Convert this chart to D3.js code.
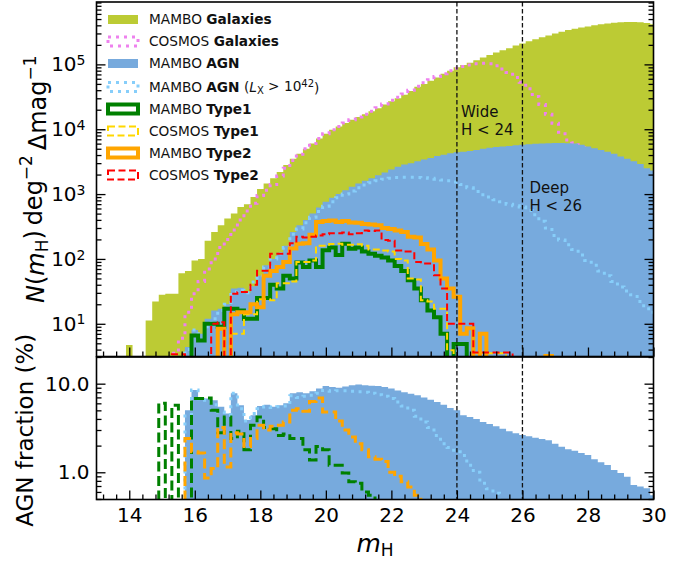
<!DOCTYPE html>
<html>
<head>
<meta charset="utf-8">
<script src="https://cdn.jsdelivr.net/npm/d3@7"></script>
<style>
  body { margin: 0; background: #fff; }
  svg { font-family: 'DejaVu Sans', sans-serif; }
</style>
</head>
<body>
<svg id="chart" width="692" height="564"></svg>
<script>
// all histograms use 0.2 mag bins, values given per bin centre
const binW = 0.2

// ---- top panel: N(m_H) per deg^2 per mag ----
const mamboGalStart = 14.0
const mamboGal = [4.7, 0, 0, 11.2, 22,
  28, 29, 29, 60, 65,
  95, 100, 190, 260, 330,
  420, 500, 630, 700, 900,
  1200, 1450, 1750, 2200, 2800,
  3500, 4200, 5000, 6000, 7200,
  8500, 9800, 11000, 12500, 14000,
  15500, 17000, 19000, 21000, 24000,
  27000, 30000, 34000, 39000, 45000,
  50000, 56000, 63000, 72000, 80000,
  90000, 98000, 106000, 116000, 128000,
  140000, 152000, 165000, 178000, 195000,
  210000, 228000, 245000, 262000, 280000,
  300000, 318000, 338000, 355000, 370000,
  385000, 400000, 415000, 428000, 440000,
  447000, 450000, 450000, 445000, 435000,
  415000]

const cosmosGalStart = 15.2
const cosmosGal = [0, 3.5, 6, 15,
  29, 45, 70, 100, 150,
  200, 280, 400, 550, 720,
  950, 1150, 1400, 1900, 2500,
  3300, 4100, 5000, 6000, 7200,
  8500, 9800, 11000, 12500, 14000,
  15500, 17000, 19000, 21500, 24500,
  28000, 31000, 35000, 40000, 46000,
  52000, 58000, 65000, 72000, 80000,
  87000, 93000, 98000, 102000, 104000,
  102000, 95000, 85000, 75000, 63000,
  53000, 42000, 32000, 24000, 17000,
  12400, 9000, 6800, 6200, 5200,
  4200, 3400, 2800, 2300, 1800,
  1500, 1250, 1000, 850, 700,
  620]

const mamboAgnStart = 15.8
const mamboAgn = [4.4,
  8, 7, 12, 16, 17,
  20, 35, 36, 30, 38,
  55, 80, 100, 125, 160,
  260, 330, 400, 500, 620,
  760, 880, 1000, 1150, 1300,
  1450, 1600, 1750, 1950, 2150,
  2400, 2650, 2850, 3000, 3200,
  3400, 3600, 3850, 4050, 4250,
  4400, 4500, 4600, 4800, 5000,
  5200, 5300, 5400, 5500, 5650,
  5750, 5850, 5950, 6050, 6100,
  6150, 6150, 6100, 6000, 5750,
  5400, 5100, 4800, 4500, 4200,
  3800, 3500, 3200, 2900, 2500,
  2300]

const agnLxStart = 15.8
const agnLx = [4,
  8, 7, 9, 12, 16,
  20, 31, 33, 30, 44,
  55, 75, 100, 120, 150,
  240, 290, 360, 440, 540,
  650, 760, 880, 1000, 1120,
  1250, 1380, 1500, 1600, 1700,
  1750, 1800, 1820, 1820, 1800,
  1780, 1750, 1700, 1650, 1600,
  1540, 1400, 1250, 1100, 980,
  900, 820, 760, 700, 660,
  630, 560, 480, 380, 300,
  230, 195, 165, 140, 115,
  95, 80, 65, 55, 45,
  37, 32, 28, 22, 17,
  15]

const mamboT1Start = 15.0
const mamboT1 = [1.7, 0, 1.7, 0, 0,
  6.6, 5.5, 10, 10, 9,
  17, 17, 16, 12, 12,
  25, 25, 40, 35, 55,
  50, 88, 75, 95, 75,
  136, 150, 115, 172, 143,
  150, 130, 120, 112, 105,
  95, 78, 65, 47, 35,
  23, 16, 12.6, 7, 0,
  4.9, 4.9]

const cosmosT1Start = 17.2
const cosmosT1 = [7, 7, 14, 14,
  24, 24, 23, 42, 42,
  45, 90, 90, 95, 160,
  160, 170, 172, 165, 165,
  168, 160, 140, 140, 135,
  130, 100, 95, 50, 48,
  23, 22, 17, 17, 3.9,
  0, 0, 0, 3.5, 3.5,
  3.5, 3.5, 3.5]

const mamboT2Start = 16.8
const mamboT2 = [8.4,
  0, 14, 15, 15, 20,
  18, 55, 65, 75, 90,
  145, 172, 175, 235, 370,
  385, 390, 370, 385, 365,
  360, 345, 340, 330, 300,
  290, 275, 260, 220, 215,
  170, 140, 95, 50, 35,
  26, 7, 8.5, 0, 7,
  0, 0, 0, 0, 0,
  0, 0, 0, 0, 3.2]

const cosmosT2Start = 15.4
const cosmosT2 = [3.4, 3.4, 0,
  0, 0, 0, 10, 10.6,
  0, 29, 31, 31, 40,
  66, 66, 120, 120, 120,
  175, 220, 215, 220, 230,
  240, 250, 250, 255, 240,
  250, 275, 270, 275, 195,
  190, 135, 130, 130, 90,
  85, 85, 56, 35, 10,
  10, 10, 10, 3.6, 3.6,
  3.6, 3.6, 3.6, 3.6]

// ---- bottom panel: AGN fraction (%) ----
const fracAgnStart = 15.8
const fracAgn = [5.0,
  8.5, 6.9, 6.8, 6.5, 5.5,
  4.6, 7.8, 5.7, 3.9, 4.4,
  5.6, 5.8, 5.5, 5.7, 6.0,
  7.8, 8.0, 7.8, 8.2, 8.8,
  9.4, 9.2, 9.0, 9.3, 9.6,
  9.8, 9.6, 9.5, 9.4, 9.2,
  8.8, 8.4, 8.0, 7.7, 7.4,
  7.0, 6.6, 6.2, 5.8, 5.3,
  5.0, 4.4, 4.2, 4.0, 3.7,
  3.5, 3.3, 3.1, 2.9, 2.75,
  2.63, 2.55, 2.46, 2.38, 2.3,
  2.1, 1.94, 1.82, 1.75, 1.65,
  1.57, 1.40, 1.30, 1.21, 1.06,
  0.98, 0.89, 0.72, 0.69, 0.66,
  0.55]

const fracLxStart = 15.8
const fracLx = [4.5,
  8.5, 6.5, 6.2, 5.8, 4.8,
  4.5, 7.8, 5.2, 3.8, 4.6,
  5.2, 5.5, 5.4, 5.5, 5.6,
  7.3, 7.0, 7.2, 7.4, 7.8,
  8.4, 8.2, 8.3, 8.3, 8.2,
  8.1, 8.0, 7.8, 7.5, 7.2,
  6.8, 6.2, 5.6, 5.0, 4.3,
  3.7, 3.2, 2.6, 2.1, 1.9,
  1.7, 1.55, 1.2, 1.0, 0.75,
  0.65, 0.58, 0.45]

const fracT1Start = 15.0
const fracT1 = [6.0, 0, 5.7, 0, 0,
  6.8, 6.8, 6.9, 5.0, 2.8,
  4.2, 2.4, 2.9, 1.8, 3.4,
  4.2, 3.2, 3.1, 2.6, 2.7,
  2.4, 2.4, 1.8, 1.38, 1.95,
  1.8, 1.2, 1.2, 0.98, 0.78,
  0.75, 0.6, 0.55]

const fracT2Start = 15.8
const fracT2 = [2.4,
  1.7, 1.65, 0.86, 1.1, 3.2,
  1.15, 2.8, 2.7, 1.95, 2.4,
  3.4, 3.0, 3.3, 3.4, 3.7,
  5.0, 5.2, 4.9, 6.3, 6.9,
  4.8, 4.8, 3.8, 3.0, 2.5,
  2.1, 1.8, 1.5, 1.4, 1.32,
  1.0, 0.9, 0.78, 0.68, 0.55]

const xTicks = [14, 16, 18, 20, 22, 24, 26, 28, 30]
const surveyCuts = [24, 26]
const cutLabels = [['Wide', 'H < 24'], ['Deep', 'H < 26']]

const colors = {
    mamboGal: '#bccb34',
    cosmosGal: '#ee82ee',
    mamboAgn: '#77aadd',
    agnLx: '#87cefa',
    t1: '#008000',
    cosmosT1: '#ffd700',
    t2: '#ffa500',
    cosmosT2: '#ff0000',
}

const svg = d3.select('#chart')
const left = 96.5
const right = 653.5
const top1 = 2
const bot1 = 356.5
const top2 = 357
const bot2 = 499.5

const x = d3.scaleLinear().domain([13, 30]).range([left, right])
const yTop = d3.scaleLog().domain([3.13, 9.16e5]).range([bot1, top1])
const yBot = d3.scaleLog().domain([0.493, 20]).range([bot2, top2])

const defs = svg.append('defs')
defs.append('clipPath').attr('id', 'clipTop')
    .append('rect').attr('x', left).attr('y', top1)
    .attr('width', right - left).attr('height', bot1 - top1)
defs.append('clipPath').attr('id', 'clipBot')
    .append('rect').attr('x', left).attr('y', top2)
    .attr('width', right - left).attr('height', bot2 - top2)

// matplotlib-like step outline (empty bins drop below the axis)
function stepPath(start, vals, y, floorY) {
    const yy = (v) => (v > 0 ? y(v) : floorY)
    let d = ''
    vals.forEach((v, i) => {
        const x0 = x(start + (i - 0.5) * binW)
        const x1 = x(start + (i + 0.5) * binW)
        d += i === 0 ? `M${x0},${floorY}L${x0},${yy(v)}` : `L${x0},${yy(v)}`
        d += `L${x1},${yy(v)}`
    })
    d += `L${x(start + (vals.length - 0.5) * binW)},${floorY}`
    return d
}

function drawFill(g, start, vals, y, floorY, color) {
    g.append('path')
        .attr('d', stepPath(start, vals, y, floorY) + 'Z')
        .attr('fill', color)
}

function drawStep(g, start, vals, y, floorY, color, width, dash) {
    g.append('path')
        .attr('d', stepPath(start, vals, y, floorY))
        .attr('fill', 'none')
        .attr('stroke', color)
        .attr('stroke-width', width)
        .attr('stroke-dasharray', dash)
        .attr('stroke-linejoin', 'miter')
}

// ---------------- top panel ----------------
const gTop = svg.append('g').attr('clip-path', 'url(#clipTop)')
const fTop = bot1 + 30
drawFill(gTop, mamboGalStart, mamboGal, yTop, fTop, colors.mamboGal)
drawStep(gTop, cosmosGalStart, cosmosGal, yTop, fTop, colors.cosmosGal, 3, '3,5')
drawFill(gTop, mamboAgnStart, mamboAgn, yTop, fTop, colors.mamboAgn)
drawStep(gTop, agnLxStart, agnLx, yTop, fTop, colors.agnLx, 3, '3,5')
drawStep(gTop, mamboT1Start, mamboT1, yTop, fTop, colors.t1, 4, null)
drawStep(gTop, cosmosT1Start, cosmosT1, yTop, fTop, colors.cosmosT1, 2, '7,3.5')
drawStep(gTop, mamboT2Start, mamboT2, yTop, fTop, colors.t2, 4, null)
drawStep(gTop, cosmosT2Start, cosmosT2, yTop, fTop, colors.cosmosT2, 2, '7,3.5')

// ---------------- bottom panel ----------------
const gBot = svg.append('g').attr('clip-path', 'url(#clipBot)')
const fBot = bot2 + 30
drawFill(gBot, fracAgnStart, fracAgn, yBot, fBot, colors.mamboAgn)
drawStep(gBot, fracLxStart, fracLx, yBot, fBot, colors.agnLx, 3, '3,5')
drawStep(gBot, fracT1Start, fracT1, yBot, fBot, colors.t1, 3, '10,4.5')
drawStep(gBot, fracT2Start, fracT2, yBot, fBot, colors.t2, 3, '10,4.5')

// survey depth lines across both panels
surveyCuts.forEach((c) => {
    ;[[top1, bot1], [top2, bot2]].forEach(([a, b]) => {
        svg.append('line')
            .attr('x1', x(c)).attr('x2', x(c))
            .attr('y1', a).attr('y2', b)
            .attr('stroke', '#111')
            .attr('stroke-width', 1.3)
            .attr('stroke-dasharray', '4.5,2.5')
    })
})

// two-line labels next to the depth lines
const annotPos = [[461, 116.5], [529.5, 192.5]]
cutLabels.forEach((lines, i) => {
    lines.forEach((s, j) => {
        svg.append('text')
            .attr('x', annotPos[i][0])
            .attr('y', annotPos[i][1] + j * 18)
            .attr('fill', '#111')
            .style('font-size', '15px')
            .text(s)
    })
})

// ---------------- axes ----------------
const tickFont = '20px'
const xMinor = d3.range(13.2, 30.01, 0.4).filter((v) => Math.abs(v / 2 - Math.round(v / 2)) > 0.01)

function styleAxis(g) {
    g.select('.domain').remove()
    g.selectAll('line').attr('stroke', '#000').attr('stroke-width', 1.3)
    g.attr('font-family', null).attr('font-size', null)
    g.selectAll('text').attr('fill', '#000').style('font-size', tickFont)
}

function xAxes(yPos, withLabels) {
    svg.append('g').attr('transform', `translate(0,${yPos})`)
        .call(d3.axisBottom(x).tickValues(xMinor).tickSize(-5).tickFormat(''))
        .call(styleAxis)
    svg.append('g').attr('transform', `translate(0,${yPos})`)
        .call(d3.axisBottom(x).tickValues(xTicks).tickSize(-9).tickPadding(8)
            .tickFormat(withLabels ? d3.format('d') : ''))
        .call(styleAxis)
}
xAxes(bot1, false)
xAxes(bot2, true)

function yAxes(scale, pad, fmt) {
    const all = scale.ticks()
    const isMajor = (v) => Math.abs(Math.log10(v) - Math.round(Math.log10(v))) < 1e-6
    const majors = all.filter(isMajor)
    const minors = all.filter((v) => !isMajor(v))
    ;[[d3.axisLeft, left], [d3.axisRight, right]].forEach(([ax, pos]) => {
        svg.append('g').attr('transform', `translate(${pos},0)`)
            .call(ax(scale).tickValues(minors).tickSize(-5).tickFormat(''))
            .call(styleAxis)
        const g = svg.append('g').attr('transform', `translate(${pos},0)`)
            .call(ax(scale).tickValues(majors).tickSize(-9).tickPadding(pad)
                .tickFormat(ax === d3.axisLeft ? (d) => d : ''))
            .call(styleAxis)
        if (ax === d3.axisLeft) fmt(g)
    })
}

yAxes(yTop, 11, (g) => {
    g.selectAll('.tick text').each(function (d) {
        const t = d3.select(this).text('')
        t.append('tspan').text('10')
        t.append('tspan').attr('dy', '-0.45em').style('font-size', '14px')
            .text(Math.round(Math.log10(d)))
    })
})
yAxes(yBot, 7, (g) => {
    g.selectAll('.tick text').text((d) => d3.format('.1f')(d))
})

// spines
;[[top1, bot1], [top2, bot2]].forEach(([a, b]) => {
    svg.append('rect')
        .attr('x', left).attr('y', a)
        .attr('width', right - left).attr('height', b - a)
        .attr('fill', 'none').attr('stroke', '#000').attr('stroke-width', 1.6)
})

// axis titles
const yl1 = svg.append('text')
    .attr('transform', `translate(44,${(top1 + bot1) / 2}) rotate(-90)`)
    .attr('text-anchor', 'middle')
    .style('font-size', '24px')
yl1.append('tspan').style('font-style', 'italic').text('N')
yl1.append('tspan').text('(')
yl1.append('tspan').style('font-style', 'italic').text('m')
yl1.append('tspan').attr('dy', '0.25em').style('font-size', '17px').text('H')
yl1.append('tspan').attr('dy', '-0.25em').text(')\u2009deg')
yl1.append('tspan').attr('dy', '-0.6em').style('font-size', '17px').text('\u22122')
yl1.append('tspan').attr('dy', '0.6em').text('\u2009\u0394mag')
yl1.append('tspan').attr('dy', '-0.6em').style('font-size', '17px').text('\u22121')

svg.append('text')
    .attr('transform', `translate(33,${(top2 + bot2) / 2 + 2}) rotate(-90)`)
    .attr('text-anchor', 'middle')
    .style('font-size', '23px')
    .text('AGN fraction (%)')

const xl = svg.append('text')
    .attr('x', (left + right) / 2)
    .attr('y', 551.5)
    .attr('text-anchor', 'middle')
    .style('font-size', '25px')
xl.append('tspan').style('font-style', 'italic').text('m')
xl.append('tspan').attr('dy', '0.25em').style('font-size', '17px').text('H')

// ---------------- legend ----------------
const legendItems = [
    { pre: 'MAMBO ', bold: 'Galaxies', kind: 'fill', color: colors.mamboGal },
    { pre: 'COSMOS ', bold: 'Galaxies', kind: 'dot', color: colors.cosmosGal },
    { pre: 'MAMBO ', bold: 'AGN', kind: 'fill', color: colors.mamboAgn },
    { pre: 'MAMBO ', bold: 'AGN', kind: 'dot', color: colors.agnLx, lx: true },
    { pre: 'MAMBO ', bold: 'Type1', kind: 'solid', color: colors.t1 },
    { pre: 'COSMOS ', bold: 'Type1', kind: 'dash', color: colors.cosmosT1 },
    { pre: 'MAMBO ', bold: 'Type2', kind: 'solid', color: colors.t2 },
    { pre: 'COSMOS ', bold: 'Type2', kind: 'dash', color: colors.cosmosT2 },
]

const leg = svg.append('g').style('font-size', '13.7px')
legendItems.forEach((it, i) => {
    const cy = 19.5 + i * 22 + (i >= 3 ? 1.5 : 0)
    const r = leg.append('rect')
        .attr('x', 108).attr('y', cy - 4.5)
        .attr('width', 30).attr('height', 9)
    if (it.kind === 'fill') r.attr('fill', it.color)
    else {
        r.attr('fill', 'none').attr('stroke', it.color)
        if (it.kind === 'dot') r.attr('stroke-width', 3).attr('stroke-dasharray', '3,5')
        if (it.kind === 'solid') r.attr('stroke-width', 4)
        if (it.kind === 'dash') r.attr('stroke-width', 2).attr('stroke-dasharray', '7,3.5')
    }
    const t = leg.append('text').attr('x', 149).attr('y', cy).attr('dy', '0.36em').attr('fill', '#111')
    t.append('tspan').text(it.pre)
    t.append('tspan').style('font-weight', 'bold').text(it.bold)
    if (it.lx) {
        t.append('tspan').text(' (')
        t.append('tspan').style('font-style', 'italic').text('L')
        t.append('tspan').attr('dy', '0.25em').style('font-size', '10px').text('X')
        t.append('tspan').attr('dy', '-0.25em').text(' > 10')
        t.append('tspan').attr('dy', '-0.45em').style('font-size', '10px').text('42')
        t.append('tspan').attr('dy', '0.45em').text(')')
    }
})
</script>
</body>
</html>
